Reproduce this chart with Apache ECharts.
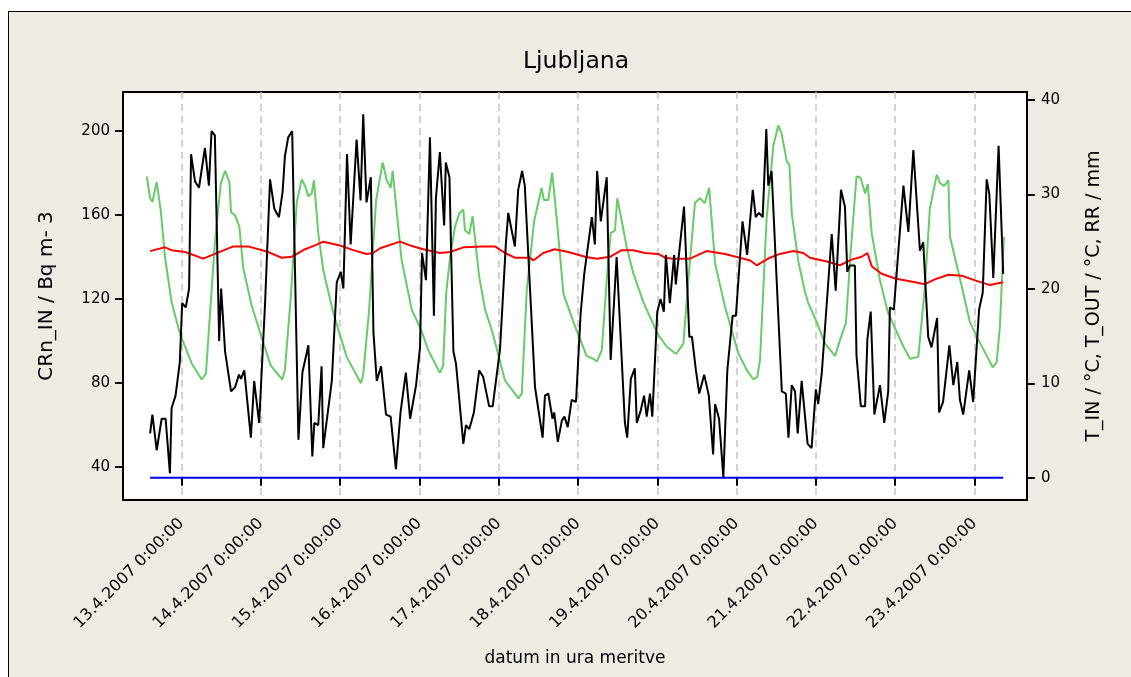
<!DOCTYPE html>
<html>
<head>
<meta charset="utf-8">
<script src="https://cdn.jsdelivr.net/npm/echarts@6/dist/echarts.min.js"></script>
<style>
html, body { margin: 0; padding: 0; background: #fff; width: 1131px; height: 677px; overflow: hidden; }
#frame { position: absolute; left: 8px; top: 11px; width: 1140px; height: 700px; background: #efebe2; border: 1.5px solid #000; }
#chart { position: absolute; left: 0; top: 0; width: 1131px; height: 677px; }
</style>
</head>
<body>
<div id="frame"></div>
<div id="chart"></div>
<script>
// hours counted from 12.4.2007 0:00:00
var tickHours = [24, 48, 72, 96, 120, 144, 168, 192, 216, 240, 264];
var tickLabels = ['13.4.2007 0:00:00', '14.4.2007 0:00:00', '15.4.2007 0:00:00', '16.4.2007 0:00:00',
    '17.4.2007 0:00:00', '18.4.2007 0:00:00', '19.4.2007 0:00:00', '20.4.2007 0:00:00',
    '21.4.2007 0:00:00', '22.4.2007 0:00:00', '23.4.2007 0:00:00'];
var leftTicks = [40, 80, 120, 160, 200];
var rightTicks = [0, 10, 20, 30, 40];

// CRn_IN (left axis)
var rnHours = [14.5,15.2,16.5,18.0,19.2,20.5,21.0,22.2,23.5,24.2,25.3,26.3,26.9,28.1,29.3,31.1,32.3,33.1,34.1,35.4,
    36.0,37.2,39.0,40.2,41.4,42.0,43.0,45.0,46.0,47.5,49.3,50.8,52.1,53.5,54.6,55.3,56.3,57.5,59.4,60.6,
    61.2,62.4,63.6,64.2,65.4,66.4,66.9,69.5,71.0,72.2,73.0,74.1,75.2,77.0,78.2,79.0,80.0,81.3,82.1,83.1,
    84.4,85.9,87.3,88.9,90.3,91.9,93.2,95.0,96.2,96.8,98.0,99.2,100.4,101.0,102.2,103.5,104.0,105.1,
    106.3,107.1,109.3,110.1,111.1,112.5,114.1,115.3,117.1,118.2,120.4,122.2,122.9,124.9,125.9,127.1,127.9,
    131.0,133.3,134.0,135.0,136.3,136.8,137.9,139.1,139.9,140.9,142.1,143.4,144.8,145.9,148.2,149.1,149.8,
    150.9,152.7,153.9,155.7,158.2,158.9,160.0,161.2,161.8,163.0,164.0,164.8,165.8,166.5,168.0,169.0,170.0,
    170.6,171.8,173.1,173.6,176.1,177.7,178.5,179.7,180.7,182.2,183.6,184.9,185.5,186.7,188.0,189.2,189.7,
    190.8,191.8,193.8,195.2,195.8,196.9,197.8,198.8,199.9,201.0,201.6,202.6,205.7,206.9,207.7,208.7,209.7,
    210.5,211.7,213.5,214.7,216.0,216.7,217.8,220.8,222.0,223.6,224.8,225.5,226.3,227.8,228.3,229.6,230.9,
    231.6,232.6,233.7,235.4,236.7,237.9,238.4,239.6,242.5,244.0,245.5,247.5,248.5,250.0,251.0,252.7,253.3,
    254.5,256.4,257.6,258.8,259.6,260.6,262.4,263.6,265.4,266.5,267.7,268.5,269.7,271.3,272.7];
var rnValues = [56,65,48,63,63,37,68,74,90,118,116,125,189,176,173,192,174,200,198,100,
    125,95,76,78,84,82,86,54,81,61,118,177,163,159,171,188,197,200,53,85,
    85,98,45,61,60,88,49,81,128,133,125,189,146,196,167,208,166,178,104,81,
    88,65,64,39,66,85,63,79,97,142,129,197,112,168,190,155,185,178,
    95,89,51,60,58,66,86,83,69,69,96,147,161,145,172,181,174,
    78,54,74,75,63,66,52,62,64,59,72,71,113,132,159,146,181,
    157,178,91,140,61,54,82,87,61,67,74,64,75,64,114,120,114,
    141,118,141,127,164,102,102,86,75,84,74,46,70,63,35,86,86,
    112,112,157,141,141,172,159,161,159,201,174,181,76,75,54,79,76,
    56,81,51,49,77,70,85,151,124,172,164,133,136,136,93,69,69,
    101,114,65,79,61,76,116,115,174,152,191,143,147,102,97,111,66,
    71,98,79,90,72,65,86,71,115,123,177,170,130,193,132];

// T_OUT (right axis)
var toutHours = [13.5,14.5,15.2,16.5,17.7,19.0,21.0,23.5,27.1,30.1,31.4,32.6,34.1,35.9,37.2,38.5,39.0,40.2,41.5,42.7,
    45.2,48.3,51.0,54.5,55.3,57.1,58.9,60.4,61.4,62.4,63.4,64.1,65.4,66.9,70.0,74.0,78.3,79.0,80.8,82.9,
    84.9,86.1,87.3,87.9,90.6,93.7,96.7,98.7,102.2,103.2,104.1,105.3,106.8,108.1,109.3,109.8,111.1,112.1,114.1,115.9,
    118.2,121.9,126.0,127.0,128.5,130.7,133.0,133.7,135.0,136.2,137.6,139.6,142.6,146.6,148.6,149.7,151.2,152.7,153.9,155.2,
    155.9,157.2,158.7,160.7,163.8,168.0,170.8,173.7,175.9,177.4,179.4,180.9,182.4,183.7,185.5,188.5,192.5,195.1,197.1,198.3,
    199.1,201.1,203.1,204.6,205.6,207.2,208.0,208.7,210.7,212.7,213.7,216.0,218.8,221.8,223.8,225.1,226.5,228.3,229.5,230.9,
    231.7,232.9,235.4,237.9,242.5,244.5,247.0,249.0,250.5,252.6,253.6,254.8,256.1,256.6,259.6,262.6,265.2,268.2,269.5,270.7,
    271.7,272.9];
var toutValues = [31.9,29.6,29.2,31.3,28.4,23.4,18.6,15.3,12.1,10.4,11.0,17.2,24.8,31.2,32.5,31.3,28.1,27.8,26.6,22.2,
    18.3,14.8,11.9,10.4,11.4,19.2,29.2,31.6,30.9,29.8,30.1,31.5,25.9,22.0,17.4,12.8,10.0,10.9,17.8,29.4,
    33.4,31.5,30.7,32.5,23.1,17.8,15.5,13.5,11.1,11.9,19.5,23.4,26.6,28.0,28.4,26.2,25.8,27.7,21.3,17.8,
    15.3,10.3,8.4,8.9,19.9,27.1,30.7,29.4,29.4,32.3,27.3,19.5,16.5,12.9,12.6,12.3,13.5,20.9,25.9,26.2,
    29.6,27.3,24.5,21.7,18.6,15.3,13.9,13.1,14.2,20.9,29.1,29.6,29.1,30.7,22.7,18.1,13.2,11.4,10.4,10.7,
    12.5,27.5,35.1,37.3,36.5,33.5,33.1,28.0,22.9,19.7,18.5,16.7,14.2,12.9,15.1,16.4,23.8,31.9,31.8,30.1,
    31.1,25.9,20.9,17.4,13.9,12.6,12.8,20.2,28.5,32.1,31.2,30.9,31.5,25.5,21.1,16.5,14.6,12.6,11.7,12.2,
    16.0,25.5];

// T_IN (right axis)
var tinHours = [14.5,19.0,21.0,25.1,30.6,34.1,39.7,44.2,50.3,54.3,57.4,61.4,64.4,66.9,72.0,76.0,80.0,82.0,84.1,90.1,
    93.2,97.2,102.2,105.3,109.3,115.3,118.9,121.9,124.9,129.5,130.5,133.5,137.0,141.1,146.1,149.7,153.7,157.2,160.7,164.3,
    168.3,170.3,172.8,177.9,182.9,188.5,193.0,196.1,198.1,199.1,202.1,205.1,209.2,212.2,214.2,219.3,223.3,226.8,229.9,231.6,
    232.9,235.9,240.0,246.0,249.0,252.0,256.1,260.1,264.2,268.7,271.2,272.7];
var tinValues = [24.0,24.4,24.1,23.9,23.2,23.7,24.5,24.5,23.9,23.3,23.4,24.2,24.6,25.0,24.6,24.1,23.7,23.8,24.3,25.0,
    24.6,24.2,23.8,23.9,24.4,24.5,24.5,23.8,23.3,23.3,23.0,23.8,24.2,23.9,23.4,23.2,23.4,24.1,24.1,23.8,
    23.7,23.3,23.2,23.2,24.0,23.7,23.3,23.0,22.5,22.7,23.3,23.7,24.0,23.8,23.3,22.9,22.5,23.1,23.4,23.8,
    22.4,21.6,21.1,20.7,20.5,21.0,21.5,21.4,20.9,20.4,20.6,20.7];

// RR (right axis)
var rrHours = [14.5, 272.7];
var rrValues = [0, 0];

function pairs(hours, values) {
    return hours.map(function (h, i) { return [h, values[i]]; });
}

var font = 'DejaVu Sans';
var chart = echarts.init(document.getElementById('chart'));

chart.setOption({
    animation: false,
    backgroundColor: 'transparent',
    textStyle: { fontFamily: font, color: '#000' },
    title: {
        text: 'Ljubljana',
        left: 571,
        top: 45,
        textAlign: 'center',
        textStyle: { fontFamily: font, fontSize: 23.5, fontWeight: 'normal', color: '#000' }
    },
    grid: {
        left: 123, top: 92, right: 104, bottom: 177,
        show: true, backgroundColor: '#fff', borderColor: '#000', borderWidth: 2
    },
    xAxis: {
        type: 'value',
        min: 6.3,
        max: 279.9,
        name: 'datum in ura meritve',
        nameLocation: 'middle',
        nameGap: 150,
        nameTextStyle: { fontFamily: font, fontSize: 17, color: '#000' },
        axisLine: { show: false },
        axisTick: { show: true, customValues: tickHours, length: 8, lineStyle: { color: '#000', width: 2 } },
        axisLabel: {
            customValues: tickHours,
            rotate: 45,
            margin: 21,
            fontFamily: font,
            fontSize: 16,
            color: '#000',
            formatter: function (v) { return tickLabels[tickHours.indexOf(v)]; }
        },
        splitLine: { show: true, lineStyle: { color: '#c4c4c4', width: 1.5, type: [7, 5] } }
    },
    yAxis: [{
        type: 'value',
        min: 24.3,
        max: 218.6,
        position: 'left',
        name: 'CRn_IN / Bq m- 3',
        nameLocation: 'middle',
        nameRotate: 90,
        nameGap: 66,
        nameTextStyle: { fontFamily: font, fontSize: 20, color: '#000' },
        axisLine: { show: false },
        axisTick: { show: true, customValues: leftTicks, length: 8, lineStyle: { color: '#000', width: 2 } },
        axisLabel: { customValues: leftTicks, margin: 13, fontFamily: font, fontSize: 15, color: '#000' },
        splitLine: { show: false }
    }, {
        type: 'value',
        min: -2.36,
        max: 40.85,
        position: 'right',
        name: 'T_IN / °C, T_OUT / °C, RR / mm',
        nameLocation: 'middle',
        nameRotate: 90,
        nameGap: 58,
        nameTextStyle: { fontFamily: font, fontSize: 19, color: '#000' },
        axisLine: { show: false },
        axisTick: { show: true, customValues: rightTicks, length: 8, lineStyle: { color: '#000', width: 2 } },
        axisLabel: { customValues: rightTicks, margin: 14, fontFamily: font, fontSize: 15, color: '#000' },
        splitLine: { show: false }
    }],
    series: [{
        name: 'RR',
        type: 'line',
        yAxisIndex: 1,
        data: pairs(rrHours, rrValues),
        symbol: 'none',
        lineStyle: { color: '#0000ff', width: 2 }
    }, {
        name: 'T_OUT',
        type: 'line',
        yAxisIndex: 1,
        data: pairs(toutHours, toutValues),
        symbol: 'none',
        lineStyle: { color: '#66cc66', width: 2 }
    }, {
        name: 'T_IN',
        type: 'line',
        yAxisIndex: 1,
        data: pairs(tinHours, tinValues),
        symbol: 'none',
        lineStyle: { color: '#ff0000', width: 2 }
    }, {
        name: 'CRn_IN',
        type: 'line',
        yAxisIndex: 0,
        data: pairs(rnHours, rnValues),
        symbol: 'none',
        lineStyle: { color: '#000000', width: 2 }
    }]
});
</script>
</body>
</html>
